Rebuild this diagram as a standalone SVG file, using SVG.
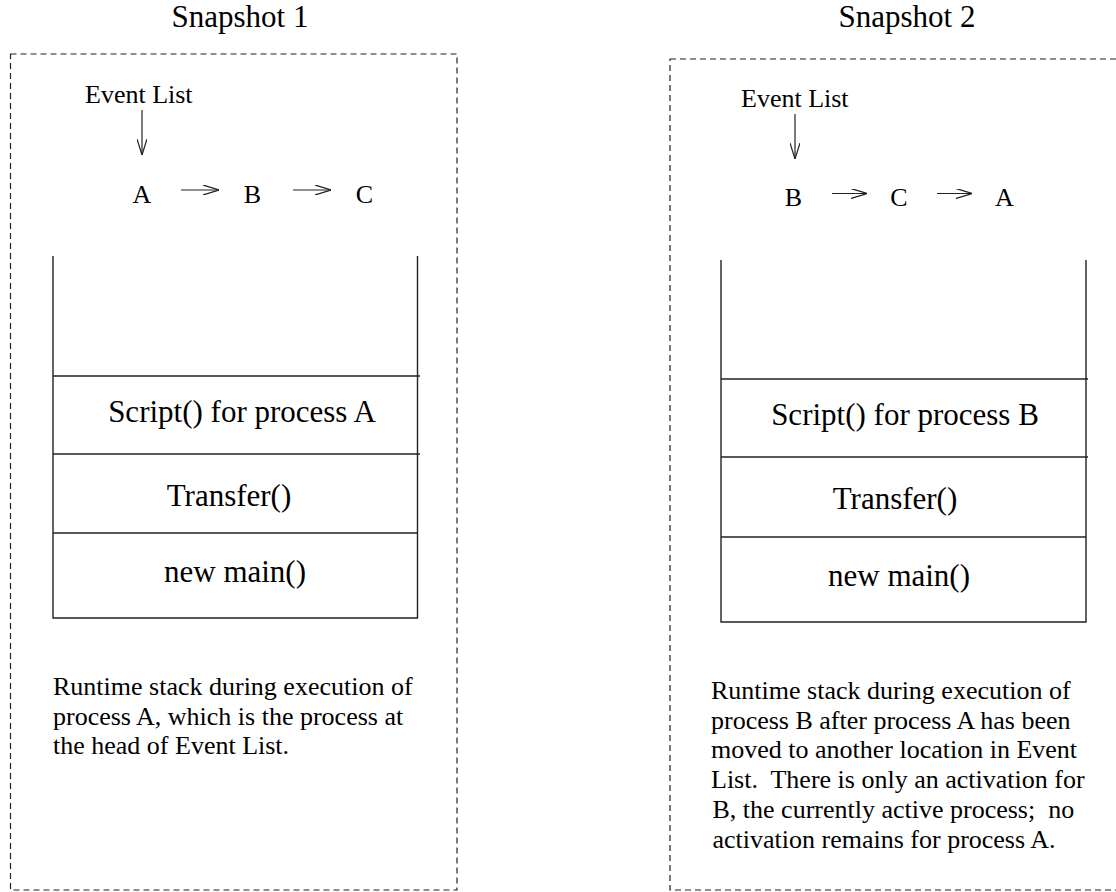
<svg xmlns="http://www.w3.org/2000/svg" width="1116" height="892" viewBox="0 0 1116 892" font-family="'Liberation Serif', 'Times New Roman', Times, serif">
<style>
text { font-family: 'Liberation Serif', 'Times New Roman', Times, serif; fill: #000; }
.title { font-size: 31px; text-anchor: middle; }
.cell { font-size: 31px; text-anchor: middle; }
.lbl { font-size: 26px; }
.ltr { font-size: 26px; text-anchor: middle; }
.desc { font-size: 26px; }
.frame { fill: none; stroke: #222; stroke-width: 1.2; stroke-dasharray: 6 4; }
.wall { fill: none; stroke: #222; stroke-width: 1.4; }
.conn { fill: none; stroke: #222; stroke-width: 1.2; }
</style>
<defs>
<marker id="vhead" viewBox="0 0 16 10" refX="16" refY="5" markerWidth="16" markerHeight="10" markerUnits="userSpaceOnUse" orient="auto">
<path d="M0,0 L16,5 L0,10" fill="none" stroke="#222" stroke-width="1.2"/>
</marker>
</defs>

<g id="snapshot1">
<rect class="frame" x="10.5" y="54" width="446.5" height="836"/>
<text class="title" x="240" y="27">Snapshot 1</text>
</g>
<g id="snapshot2">
<rect class="frame" x="670" y="59" width="460" height="831"/>
<text class="title" x="907" y="27">Snapshot 2</text>
</g>

<g id="eventlist1">
<text class="lbl" x="85" y="103">Event List</text>
</g>
<g id="list1-A"><text class="ltr" x="142" y="203">A</text></g>
<g id="list1-B"><text class="ltr" x="252.5" y="203">B</text></g>
<g id="list1-C"><text class="ltr" x="364.5" y="203">C</text></g>

<g id="eventlist2">
<text class="lbl" x="741" y="107">Event List</text>
</g>
<g id="list2-B"><text class="ltr" x="793.5" y="206">B</text></g>
<g id="list2-C"><text class="ltr" x="899" y="206">C</text></g>
<g id="list2-A"><text class="ltr" x="1004.5" y="206">A</text></g>

<g id="stack1">
<path class="wall" d="M53,256 V618 H417.5 V256"/>
<line class="wall" x1="53" y1="376" x2="420" y2="376"/>
<line class="wall" x1="53" y1="454" x2="420" y2="454"/>
<line class="wall" x1="53" y1="533" x2="417.5" y2="533"/>
</g>
<g id="stack1-script"><text class="cell" x="242" y="422">Script() for process A</text></g>
<g id="stack1-transfer"><text class="cell" x="229" y="506">Transfer()</text></g>
<g id="stack1-main"><text class="cell" x="235" y="582">new main()</text></g>

<g id="stack2">
<path class="wall" d="M721,260 V622 H1086 V260"/>
<line class="wall" x1="721" y1="379" x2="1088" y2="379"/>
<line class="wall" x1="721" y1="457" x2="1088" y2="457"/>
<line class="wall" x1="721" y1="537" x2="1086" y2="537"/>
</g>
<g id="stack2-script"><text class="cell" x="905" y="425">Script() for process B</text></g>
<g id="stack2-transfer"><text class="cell" x="895" y="509">Transfer()</text></g>
<g id="stack2-main"><text class="cell" x="899" y="586">new main()</text></g>

<g id="desc1">
<text class="desc" x="53" y="695">Runtime stack during execution of</text>
<text class="desc" x="53" y="724.5">process A, which is the process at</text>
<text class="desc" x="53" y="754">the head of Event List.</text>
</g>
<g id="desc2">
<text class="desc" x="711" y="699">Runtime stack during execution of</text>
<text class="desc" x="711" y="728.5">process B after process A has been</text>
<text class="desc" x="711" y="758">moved to another location in Event</text>
<text class="desc" x="711" y="788" xml:space="preserve">List.  There is only an activation for</text>
<text class="desc" x="712.5" y="818" xml:space="preserve">B, the currently active process;  no</text>
<text class="desc" x="712.5" y="848">activation remains for process A.</text>
</g>

<g id="connectors">
<line class="conn" x1="142" y1="110" x2="142" y2="155" marker-end="url(#vhead)"/>
<line class="conn" x1="181" y1="190" x2="219" y2="190" marker-end="url(#vhead)"/>
<line class="conn" x1="293" y1="190" x2="331" y2="190" marker-end="url(#vhead)"/>
<line class="conn" x1="795" y1="114" x2="795" y2="159" marker-end="url(#vhead)"/>
<line class="conn" x1="832" y1="193.5" x2="867" y2="193.5" marker-end="url(#vhead)"/>
<line class="conn" x1="937" y1="193.5" x2="972" y2="193.5" marker-end="url(#vhead)"/>
</g>
</svg>
